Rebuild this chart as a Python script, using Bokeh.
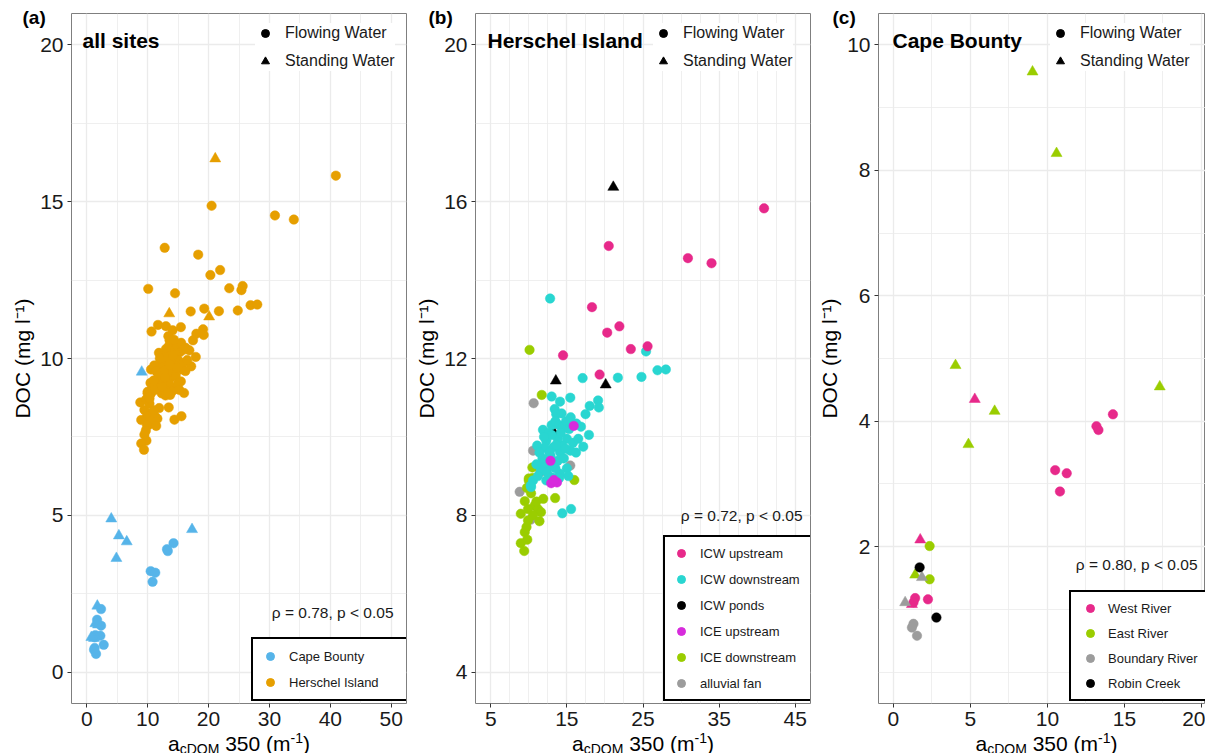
from bokeh.plotting import figure
from bokeh.models import FixedTicker, Legend, LegendItem, Label, Range1d, ColumnDataSource
from bokeh.core.properties import value
from bokeh.layouts import row
from bokeh.embed import file_html
from bokeh.resources import INLINE

FONT = "Liberation Sans"
NAN = float("nan")

# ---------------- data: Herschel Island (panel b) ----------------
icw_up_x = [40.9, 20.5, 30.9, 34.0, 18.3, 20.3, 21.9, 23.4, 25.6, 14.5, 19.3]
icw_up_y = [15.83, 14.87, 14.56, 14.43, 13.31, 12.66, 12.82, 12.24, 12.31, 12.08, 11.59]
icw_up_shape = ["circle"] * 11

icw_down_x = [12.8, 25.4, 17.07, 21.7, 24.8, 26.9, 28.0, 13.0, 14.1, 15.45, 13.4, 13.6,
              19.1, 18.0, 19.2, 17.45, 16.85, 16.25, 17.9, 17.15, 11.86, 14.7, 14.4, 15.55,
              12.3, 12.6, 13.0, 13.5, 14.0, 14.5, 14.9, 15.3, 15.0, 14.4,
              13.8, 13.2, 12.1, 11.1, 11.4, 12.85, 14.1, 15.45, 15.8, 13.8,
              12.9, 12.0, 11.6, 14.1, 12.9, 12.3, 10.56, 10.3, 10.25, 11.2,
              13.5, 14.6, 15.0, 16.2, 13.0, 14.2, 12.7, 11.8, 13.3, 14.0,
              15.2, 11.0, 12.4, 12.0, 14.8, 13.6, 16.5, 15.5, 14.3]
icw_down_y = [13.53, 12.18, 11.5, 11.51, 11.53, 11.70, 11.72, 11.03, 10.9, 11.0, 10.71, 10.58,
              10.93, 10.79, 10.75, 10.58, 10.26, 10.34, 10.05, 9.75, 10.18, 10.24, 8.05, 8.16,
              9.9, 10.1, 10.3, 10.4, 10.3, 10.27, 10.4, 10.2, 9.95, 9.78,
              9.95, 9.73, 9.73, 9.78, 9.6, 9.52, 9.61, 9.65, 9.85, 9.39,
              9.27, 9.31, 9.14, 9.06, 8.97, 8.89, 8.89, 8.72, 8.76, 9.0,
              9.2, 9.45, 9.2, 9.6, 10.05, 10.1, 9.6, 9.45, 8.95, 8.95,
              9.0, 9.3, 9.1, 10.0, 9.7, 9.8, 9.95, 10.5, 10.6]
icw_down_shape = ["circle"] * len(icw_down_x)

icw_ponds_x = [21.1, 13.55, 20.1, 13.2]
icw_ponds_y = [16.37, 11.43, 11.33, 10.14]
icw_ponds_shape = ["triangle"] * 4

ice_up_x = [15.9, 12.85, 12.94, 13.7, 13.3]
ice_up_y = [10.28, 9.39, 8.82, 8.84, 8.9]
ice_up_shape = ["circle"] * 5

ice_down_x = [10.1, 11.7, 10.47, 10.0, 10.5, 11.9, 13.46, 15.98, 10.3, 9.47,
              10.77, 9.9, 11.2, 11.6, 8.95, 10.56, 11.4, 9.9, 9.7, 9.47,
              9.8, 8.95, 9.4, 10.0, 9.75, 11.0]
ice_down_y = [12.22, 11.07, 9.22, 8.94, 8.95, 8.42, 8.44, 8.9, 8.56, 8.36,
              8.25, 8.16, 8.16, 8.08, 8.04, 8.0, 7.85, 7.87, 7.7, 7.57,
              7.38, 7.29, 7.09, 8.89, 8.7, 8.35]
ice_down_shape = ["circle"] * len(ice_down_x)

fan_x = [10.64, 10.56, 15.45, 11.5, 8.8, 10.25, 11.9]
fan_y = [10.86, 9.65, 9.27, 9.1, 8.6, 7.89, 9.2]
fan_shape = ["circle"] * 7

# ---------------- data: Cape Bounty (panel c) ----------------
west_x = [14.25, 13.18, 13.31, 10.5, 11.25, 10.81, 1.41, 2.24, 1.3, 5.28, 1.74, 1.2]
west_y = [4.11, 3.92, 3.86, 3.22, 3.17, 2.88, 1.18, 1.16, 1.11, 4.35, 2.11, 1.08]
west_shape = ["circle"] * 9 + ["triangle"] * 3

east_x = [9.03, 10.59, 4.03, 6.57, 4.87, 17.29, 1.41, 2.35, 2.35]
east_y = [9.57, 8.27, 4.89, 4.16, 3.63, 4.55, 1.55, 2.01, 1.48]
east_shape = ["triangle"] * 7 + ["circle"] * 2

boundary_x = [1.85, 0.76, 1.3, 1.2, 1.53]
boundary_y = [1.51, 1.11, 0.77, 0.71, 0.58]
boundary_shape = ["triangle"] * 2 + ["circle"] * 3

robin_x = [1.7, 2.79]
robin_y = [1.67, 0.87]
robin_shape = ["circle"] * 2

# ---------------- labels / ticks ----------------
rho_a = "ρ = 0.78, p < 0.05"
rho_b = "ρ = 0.72, p < 0.05"
rho_c = "ρ = 0.80, p < 0.05"
x_title_parts = ["a", "cDOM", "350 (m", "-1", ")"]

a_xticks = [0, 10, 20, 30, 40, 50]
a_xminor = [5, 15, 25, 35, 45]
a_yticks = [0, 5, 10, 15, 20]
a_yminor = [2.5, 7.5, 12.5, 17.5]
b_xticks = [5, 15, 25, 35, 45]
b_xminor = [7.5, 10, 12.5, 17.5, 20, 22.5, 27.5, 30, 32.5, 37.5, 40, 42.5]
b_yticks = [4, 8, 12, 16, 20]
b_yminor = [6, 10, 14, 18]
c_xticks = [0, 5, 10, 15, 20]
c_xminor = [2.5, 7.5, 12.5, 17.5]
c_yticks = [2, 4, 6, 8, 10]
c_yminor = [0, 1, 3, 5, 7, 9]

# colours
C_ORANGE = "#E69F00"
C_BLUE = "#56B4E9"
C_PINK = "#E7298A"
C_CYAN = "#29D6D1"
C_MAGENTA = "#D72BDC"
C_GREEN = "#9ACD00"
C_GRAY = "#9C9C9C"
C_BLACK = "#000000"

SIZE = {"circle": 9.5, "triangle": 11}
FH = 690  # frame height in px

W = {'a': .556, 'c': .5, 'D': .722, 'O': .778, 'M': .833, ' ': .278, '3': .556, '5': .556,
     '0': .556, '(': .333, 'm': .833, '-': .333, '1': .556, ')': .333}


def tw(s, fs):
    return sum(W[ch] for ch in s) * fs


def make_fig(width, bl, br, xr, yr, xt, xm, yt, ym):
    p = figure(width=width, height=753, x_range=Range1d(*xr), y_range=Range1d(*yr),
               output_backend="svg", toolbar_location=None,
               min_border_left=bl, min_border_right=br, min_border_top=13, min_border_bottom=50)
    p.xaxis.ticker = FixedTicker(ticks=xt, minor_ticks=xm)
    p.yaxis.ticker = FixedTicker(ticks=yt, minor_ticks=ym)
    p.xgrid.ticker = FixedTicker(ticks=xt, minor_ticks=xm)
    p.ygrid.ticker = FixedTicker(ticks=yt, minor_ticks=ym)
    for g in (p.xgrid, p.ygrid):
        g.grid_line_color = "#EBEBEB"
        g.grid_line_width = 1.3
        g.minor_grid_line_color = "#EBEBEB"
        g.minor_grid_line_width = 0.8
    p.axis.axis_line_color = None
    p.axis.minor_tick_line_color = None
    p.axis.major_tick_out = 4
    p.axis.major_tick_in = 0
    p.axis.major_tick_line_color = "#333333"
    p.axis.major_label_text_font = FONT
    p.axis.major_label_text_font_size = "21px"
    p.axis.major_label_text_color = "#1A1A1A"
    p.axis.major_label_standoff = 4
    p.yaxis.axis_label = "DOC (mg l⁻¹)"
    p.yaxis.axis_label_text_font = FONT
    p.yaxis.axis_label_text_font_size = "21px"
    p.yaxis.axis_label_text_font_style = "normal"
    p.yaxis.axis_label_text_color = "#000000"
    p.yaxis.axis_label_standoff = 3
    p.outline_line_color = "#7F7F7F"
    p.outline_line_width = 1
    p.background_fill_color = "white"
    return p


def to_data(p, sx, sy, fw):
    xr, yr = p.x_range, p.y_range
    return (xr.start + sx * (xr.end - xr.start) / fw,
            yr.start + sy * (yr.end - yr.start) / FH)


def add_points(p, xs, ys, shapes, color):
    src = ColumnDataSource(dict(x=xs, y=ys, m=shapes, s=[SIZE[k] for k in shapes]))
    p.scatter(x="x", y="y", marker="m", size="s", source=src, fill_color=color,
              line_color=color, line_width=0.5)


def xlabel(p, fw, centre):
    sizes = [21, 14, 21, 14, 21]
    offs = [-40, -45, -40, -34, -40]
    gaps = [0, 0, tw(" ", 21), 0, 0]
    widths = [tw(s, f) + g for s, f, g in zip(x_title_parts, sizes, gaps)]
    x = centre - sum(widths) / 2
    xs, ys, fs = [], [], []
    for s, f, g, w, o in zip(x_title_parts, sizes, gaps, widths, offs):
        dx, dy = to_data(p, x + g, o, fw)
        xs.append(dx)
        ys.append(dy)
        fs.append(f"{f}px")
        x += w
    src = ColumnDataSource(dict(x=xs, y=ys, t=x_title_parts, fs=fs))
    p.text(x="x", y="y", text="t", text_font_size="fs", source=src, text_font=value(FONT),
           text_color="#000000", text_baseline="alphabetic", text_align="left", level="overlay")


def titles(p, fw, tag, tag_x, title, title_x, rho, rho_x, rho_y):
    dx, dy = to_data(p, tag_x, 697, fw)
    p.text(x=[dx], y=[dy], text=[tag], text_font=value(FONT), text_font_size="19px",
           text_font_style="bold", text_baseline="top", text_color="#000000", level="overlay")
    p.add_layout(Label(x=title_x, y=663, x_units="screen", y_units="screen", text=title,
                       text_font=FONT, text_font_size="21px", text_font_style="bold",
                       text_baseline="alphabetic", text_color="#000000"))
    p.add_layout(Label(x=rho_x, y=rho_y + 7, x_units="screen", y_units="screen", text=rho,
                       text_font=FONT, text_font_size="15.5px", text_align="right",
                       text_baseline="alphabetic", text_color="#1A1A1A"))


def shape_legend(p, x):
    rc = p.scatter(x=[NAN], y=[NAN], marker="circle", size=8, color="black")
    rt = p.scatter(x=[NAN], y=[NAN], marker="triangle", size=9, color="black")
    lg = Legend(items=[LegendItem(label="Flowing Water", renderers=[rc]),
                       LegendItem(label="Standing Water", renderers=[rt])],
                location=(x, 632), label_text_font=FONT, label_text_font_size="16px",
                label_text_color="#1A1A1A", glyph_width=20, glyph_height=20, label_height=20,
                label_standoff=10, padding=8, spacing=8, margin=0, label_width=104,
                border_line_color=None, background_fill_color="white", background_fill_alpha=1)
    p.add_layout(lg)


def color_legend(p, names, colors, x, gw, pad, spacing, standoff, lw):
    items = []
    for n, c in zip(names, colors):
        r = p.scatter(x=[NAN], y=[NAN], marker="circle", size=9, color=c)
        items.append(LegendItem(label=n, renderers=[r]))
    lg = Legend(items=items, location=(x, 2), label_text_font=FONT, label_text_font_size="13px",
                label_text_color="#1A1A1A", glyph_width=gw, glyph_height=20, label_height=20,
                label_standoff=standoff, padding=pad, spacing=spacing, margin=0, label_width=lw,
                border_line_color="black", border_line_width=2, border_line_alpha=1,
                background_fill_color="white", background_fill_alpha=1)
    p.add_layout(lg)


# ---------------- panel a ----------------
pa = make_fig(410, 71, 4, (-2.5, 52.5), (-1, 21), a_xticks, a_xminor, a_yticks, a_yminor)
cb_x = west_x + east_x + boundary_x + robin_x
cb_y = west_y + east_y + boundary_y + robin_y
cb_s = west_shape + east_shape + boundary_shape + robin_shape
hi_x = icw_ponds_x + fan_x + ice_down_x + icw_down_x + ice_up_x + icw_up_x
hi_y = icw_ponds_y + fan_y + ice_down_y + icw_down_y + ice_up_y + icw_up_y
hi_s = icw_ponds_shape + fan_shape + ice_down_shape + icw_down_shape + ice_up_shape + icw_up_shape
add_points(pa, cb_x, cb_y, cb_s, C_BLUE)
add_points(pa, hi_x, hi_y, hi_s, C_ORANGE)
titles(pa, 335, "(a)", -49, "all sites", 11, rho_a, 322, 84)
xlabel(pa, 335, 167.5)
shape_legend(pa, 184)
color_legend(pa, ["Cape Bounty", "Herschel Island"], [C_BLUE, C_ORANGE], 180, 20, 7, 6, 9, 112)

# ---------------- panel b ----------------
pb = make_fig(404, 65, 4, (3, 47), (3.2, 20.8), b_xticks, b_xminor, b_yticks, b_yminor)
add_points(pb, icw_ponds_x, icw_ponds_y, icw_ponds_shape, C_BLACK)
add_points(pb, fan_x, fan_y, fan_shape, C_GRAY)
add_points(pb, ice_down_x, ice_down_y, ice_down_shape, C_GREEN)
add_points(pb, icw_down_x, icw_down_y, icw_down_shape, C_CYAN)
add_points(pb, ice_up_x, ice_up_y, ice_up_shape, C_MAGENTA)
add_points(pb, icw_up_x, icw_up_y, icw_up_shape, C_PINK)
titles(pb, 335, "(b)", -47, "Herschel Island", 12, rho_b, 327, 181)
xlabel(pb, 335, 167.5)
shape_legend(pb, 178)
color_legend(pb, ["ICW upstream", "ICW downstream", "ICW ponds", "ICE upstream",
                  "ICE downstream", "alluvial fan"],
             [C_PINK, C_CYAN, C_BLACK, C_MAGENTA, C_GREEN, C_GRAY], 188, 20, 6, 6, 9, 107)

# ---------------- panel c ----------------
pc = make_fig(391, 64, 0, (-0.97, 20.26), (-0.5, 10.5), c_xticks, c_xminor, c_yticks, c_yminor)
add_points(pc, west_x, west_y, west_shape, C_PINK)
add_points(pc, east_x, east_y, east_shape, C_GREEN)
add_points(pc, boundary_x, boundary_y, boundary_shape, C_GRAY)
add_points(pc, robin_x, robin_y, robin_shape, C_BLACK)
titles(pc, 327, "(c)", -46, "Cape Bounty", 14, rho_c, 319, 132)
xlabel(pc, 327, 168)
shape_legend(pc, 172)
color_legend(pc, ["West River", "East River", "Boundary River", "Robin Creek"],
             [C_PINK, C_GREEN, C_GRAY, C_BLACK], 191, 26, 6, 5, 5, 96)

layout = row(pa, pb, pc)
open("out.html", "w").write(file_html(layout, INLINE))
